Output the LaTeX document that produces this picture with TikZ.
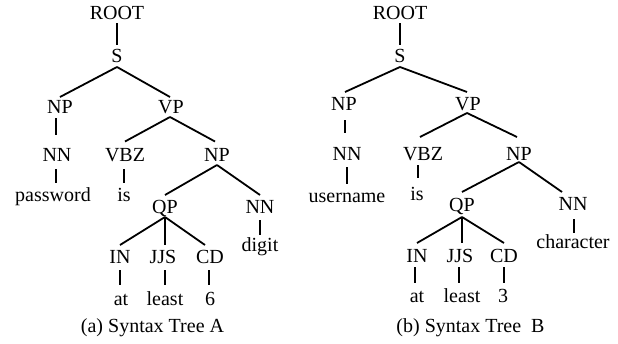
\documentclass[tikz,border=0pt]{standalone}
\usepackage{fontspec}
\setmainfont{Liberation Serif}
\usetikzlibrary{calc}
\begin{document}
\begin{tikzpicture}[x=1pt,y=-1pt,
  lbl/.style={anchor=base, inner sep=0pt, font=\fontsize{20}{24}\selectfont},
  edge/.style={line width=1.8pt}]
\useasboundingbox (0,0) rectangle (618,343);

% ---------------- Tree A ----------------
\node[lbl] (aROOT) at (117,19) {ROOT};
\node[lbl] (aS) at (117,62.5) {S};
\node[lbl] (aNP) at (60,113) {NP};
\node[lbl] (aVP) at (171,113) {VP};
\node[lbl] (aNN) at (57,161.5) {NN};
\node[lbl] (aVBZ) at (125,161.5) {VBZ};
\node[lbl] (aNPb) at (217,161) {NP};
\node[lbl] (apw) at (53,201.5) {password};
\node[lbl] (ais) at (124,201.5) {is};
\node[lbl] (aQP) at (165,213) {QP};
\node[lbl] (aNNc) at (260,213) {NN};
\node[lbl] (adigit) at (260,251) {digit};
\node[lbl] (aIN) at (120,263.5) {IN};
\node[lbl] (aJJS) at (163,263.5) {JJS};
\node[lbl] (aCD) at (210,263.5) {CD};
\node[lbl] (aat) at (121,305) {at};
\node[lbl] (aleast) at (165,305) {least};
\node[lbl] (asix) at (210,305) {6};
\node[lbl] (capA) at (152.5,332.5) {(a) Syntax Tree A};

\draw[edge] ($(aROOT.base)+(0,4)$) -- ($(aS.base)+(0,-17.5)$);
\draw[edge] ($(aS.base)+(0,4.5)$) -- ($(aNP.base)+(0,-16)$);
\draw[edge] ($(aS.base)+(0,4.5)$) -- ($(aVP.base)+(-1,-16)$);
\draw[edge] ($(aNP.base)+(-4,5)$) -- ($(aNN.base)+(-1,-26.5)$);
\draw[edge] ($(aVP.base)+(-1,4)$) -- ($(aVBZ.base)+(0,-20)$);
\draw[edge] ($(aVP.base)+(-1,4)$) -- ($(aNPb.base)+(-2,-19.5)$);
\draw[edge] ($(aNN.base)+(-1,7.5)$) -- ($(apw.base)+(3,-18.5)$);
\draw[edge] ($(aVBZ.base)+(-1,7.5)$) -- ($(ais.base)+(0,-18.5)$);
\draw[edge] ($(aNPb.base)+(0,4)$) -- ($(aQP.base)+(0,-18)$);
\draw[edge] ($(aNPb.base)+(0,4)$) -- ($(aNNc.base)+(0,-18)$);
\draw[edge] ($(aQP.base)+(0,4)$) -- ($(aIN.base)+(0,-18.5)$);
\draw[edge] ($(aQP.base)+(0,4)$) -- ($(aJJS.base)+(2,-18.5)$);
\draw[edge] ($(aQP.base)+(0,4)$) -- ($(aCD.base)+(-5,-18.5)$);
\draw[edge] ($(aNNc.base)+(0,7)$) -- ($(adigit.base)+(0,-16)$);
\draw[edge] ($(aIN.base)+(0,6.5)$) -- ($(aat.base)+(-1,-20)$);
\draw[edge] ($(aJJS.base)+(2,6.5)$) -- ($(aleast.base)+(0,-20)$);
\draw[edge] ($(aCD.base)+(-1,6.5)$) -- ($(asix.base)+(-1,-20)$);

% ---------------- Tree B ----------------
\node[lbl] (bROOT) at (400,19) {ROOT};
\node[lbl] (bS) at (400,62.5) {S};
\node[lbl] (bNP) at (344,110.5) {NP};
\node[lbl] (bVP) at (468,110.5) {VP};
\node[lbl] (bNN) at (347,160.5) {NN};
\node[lbl] (bVBZ) at (423,160.5) {VBZ};
\node[lbl] (bNPb) at (519,160) {NP};
\node[lbl] (bun) at (347,202) {username};
\node[lbl] (bis) at (417,200) {is};
\node[lbl] (bQP) at (462,211) {QP};
\node[lbl] (bNNc) at (573,210.5) {NN};
\node[lbl] (bchar) at (573,248) {character};
\node[lbl] (bIN) at (417,262) {IN};
\node[lbl] (bJJS) at (460,262) {JJS};
\node[lbl] (bCD) at (504,262) {CD};
\node[lbl] (bat) at (417,302) {at};
\node[lbl] (bleast) at (462,302) {least};
\node[lbl] (bthree) at (503,302) {3};
\node[lbl] (capB) at (470.5,332.5) {(b) Syntax Tree\ \ B};

\draw[edge] ($(bROOT.base)+(0,4)$) -- ($(bS.base)+(0,-17.5)$);
\draw[edge] ($(bS.base)+(0,4.5)$) -- ($(bNP.base)+(1,-18.5)$);
\draw[edge] ($(bS.base)+(0,4.5)$) -- ($(bVP.base)+(-1,-18.5)$);
\draw[edge] ($(bNP.base)+(1,9.5)$) -- ($(bNN.base)+(-2,-27.5)$);
\draw[edge] ($(bVP.base)+(-1,2.5)$) -- ($(bVBZ.base)+(-3,-23.5)$);
\draw[edge] ($(bVP.base)+(-1,2.5)$) -- ($(bNPb.base)+(-2,-23)$);
\draw[edge] ($(bNN.base)+(0,6.5)$) -- ($(bun.base)+(0,-18)$);
\draw[edge] ($(bVBZ.base)+(-5,4.5)$) -- ($(bis.base)+(1,-22)$);
\draw[edge] ($(bNPb.base)+(0,2)$) -- ($(bQP.base)+(0,-19)$);
\draw[edge] ($(bNPb.base)+(0,2)$) -- ($(bNNc.base)+(-11,-18.5)$);
\draw[edge] ($(bQP.base)+(0,6)$) -- ($(bIN.base)+(0,-19)$);
\draw[edge] ($(bQP.base)+(0,6)$) -- ($(bJJS.base)+(2,-19)$);
\draw[edge] ($(bQP.base)+(0,6)$) -- ($(bCD.base)+(0,-19)$);
\draw[edge] ($(bNNc.base)+(1,8.5)$) -- ($(bchar.base)+(1,-15)$);
\draw[edge] ($(bIN.base)+(-2,5)$) -- ($(bat.base)+(-2,-19)$);
\draw[edge] ($(bJJS.base)+(-1,5)$) -- ($(bleast.base)+(-3,-19)$);
\draw[edge] ($(bCD.base)+(0,5)$) -- ($(bthree.base)+(1,-19)$);
\end{tikzpicture}
\end{document}
